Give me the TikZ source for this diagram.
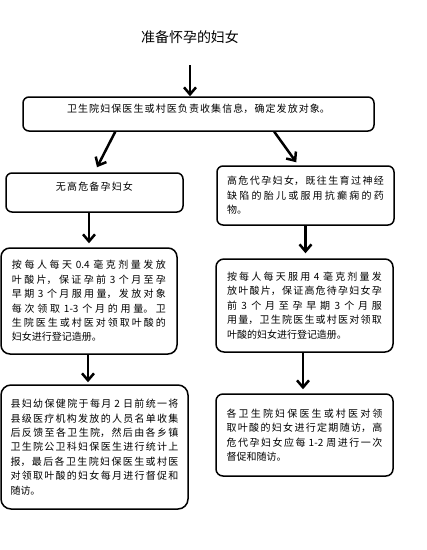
\documentclass[tikz,border=0pt]{standalone}
\usepackage{fontspec}
\setmainfont{Noto Sans CJK SC}
\usetikzlibrary{arrows.meta,calc}
\XeTeXlinebreaklocale "zh"
\XeTeXlinebreakskip=0pt plus 2pt
\tolerance=10000
\hbadness=10000
\newcommand\jl[1]{{\parfillskip=0pt #1\par}}
\tikzset{
  box/.style={draw, line width=1.5pt, rounded corners=6pt, inner sep=0pt,
    align=justify, font={\fontsize{10}{14.4}\selectfont\parindent=0pt}},
  ttl/.style={font={\fontsize{14}{16}\selectfont}, inner sep=0pt},
  arr/.style={line width=2.5pt, -{Straight Barb[length=7pt,width=12pt]}}
}
\begin{document}
\begin{tikzpicture}[x=1pt,y=-1pt]
\useasboundingbox (0,0) rectangle (427,550);
\node[ttl] (title) at (190,37) {准备怀孕的妇女};
\coordinate (t0) at (190,65);
\node[box, minimum width=351pt, minimum height=34pt, text width=263pt,
  text height=8pt, text depth=10.4pt] (b1) at (198.5,114)
  {\jl{卫生院妇保医生或村医负责收集信息，确定发放对象。}};
\node[box, minimum width=177pt, minimum height=39pt, text width=77pt,
  text height=8pt, text depth=11.4pt] (L1) at (94.5,192.5)
  {\jl{无高危备孕妇女}};
\node[box, minimum width=177pt, minimum height=59pt, text width=157pt] (R1) at (305.5,195.5)
  {\jl{高危代孕妇女，既往生育过神经}\jl{缺陷的胎儿或服用抗癫痫的药}物。};
\node[box, rounded corners=9pt, minimum width=176pt, minimum height=106pt, text width=154pt] (L2) at (89,301)
  {\jl{按每人每天 0.4 毫克剂量发放}\jl{叶酸片，保证孕前 3 个月至孕}\jl{早期 3 个月服用量，发放对象}\jl{每次领取 1-3 个月的用量。卫}\jl{生院医生或村医对领取叶酸的}妇女进行登记造册。};
\node[box, rounded corners=8pt, minimum width=177pt, minimum height=93pt, text width=155pt] (R2) at (304.5,305.5)
  {\jl{按每人每天服用 4 毫克剂量发}\jl{放叶酸片，保证高危待孕妇女孕}\jl{前 3 个月至孕早期 3 个月服}\jl{用量，卫生院医生或村医对领取}叶酸的妇女进行登记造册。};
\node[box, rounded corners=10pt, minimum width=187pt, minimum height=124pt, text width=168pt] (L3) at (94.5,447)
  {\jl{县妇幼保健院于每月 2 日前统一将}\jl{县级医疗机构发放的人员名单收集}\jl{后反馈至各卫生院，然后由各乡镇}\jl{卫生院公卫科妇保医生进行统计上}\jl{报，最后各卫生院妇保医生或村医}\jl{对领取叶酸的妇女每月进行督促和}随访。};
\node[box, rounded corners=7pt, minimum width=177pt, minimum height=82pt, text width=156pt] (R3) at (304.5,435)
  {\jl{各卫生院妇保医生或村医对领}\jl{取叶酸的妇女进行定期随访，高}\jl{危代孕妇女应每 1-2 周进行一次}督促和随访。};
\draw[arr] (t0) -- (b1.north -| t0);
\draw[arr] ($(b1.south west)+(93,0)$) -- ($(L1.north)+(2.5,-5)$);
\draw[arr] ($(b1.south west)+(252,0)$) -- ($(R1.north west)+(80,-3)$);
\draw[arr] (L1.south -| L2.north) -- ($(L2.north)+(0,-4)$);
\draw[arr] (R1.south) -- ($(R1.south |- R2.north)+(0,-5)$);
\draw[arr] ($(L2.south)+(-1,0)$) -- ($(L3.north)+(-6.5,-2)$);
\draw[arr] ($(R2.south)+(-1.5,0)$) -- ($(R3.north)+(-1.5,-4)$);
\end{tikzpicture}
\end{document}
